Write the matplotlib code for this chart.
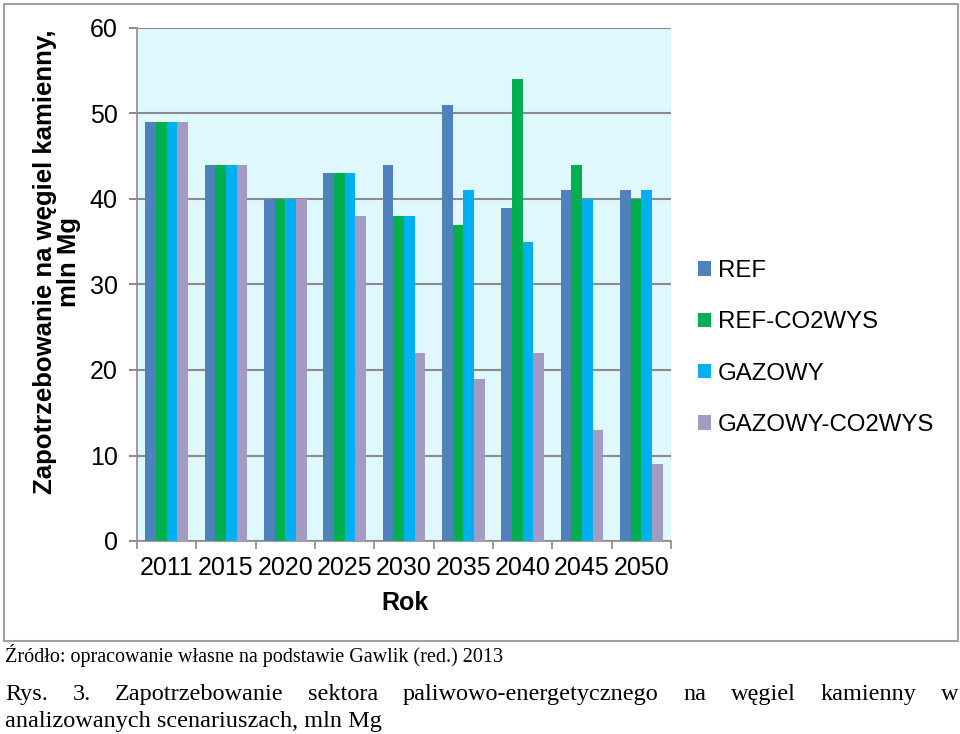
import numpy as np
import matplotlib
matplotlib.use('Agg')
import matplotlib.pyplot as plt
from matplotlib.patches import Rectangle

# data
years = ['2011', '2015', '2020', '2025', '2030', '2035', '2040', '2045', '2050']
ref = [49, 44, 40, 43, 44, 51, 39, 41, 41]
ref_co2 = [49, 44, 40, 43, 38, 37, 54, 44, 40]
gazowy = [49, 44, 40, 43, 38, 41, 35, 40, 41]
gazowy_co2 = [49, 44, 40, 38, 22, 19, 22, 13, 9]
series_names = ['REF', 'REF-CO2WYS', 'GAZOWY', 'GAZOWY-CO2WYS']
colors = ['#4F81BD', '#00B050', '#00B0F0', '#A49BC5']

plt.rcParams['font.family'] = ['Liberation Sans', 'DejaVu Sans']
W, H = 960, 734
fig = plt.figure(figsize=(9.6, 7.34), dpi=100)

# outer chart frame
fig.patches.append(Rectangle((4 / W, 1 - 641 / H), 954 / W, 637 / H, transform=fig.transFigure,
                             fill=False, edgecolor='#A0A0A0', linewidth=1.5))

ax = fig.add_axes([137 / W, 1 - 541 / H, 534 / W, 513 / H])
ax.set_facecolor('#DFF8FD')

x = np.arange(len(years))
bw = 0.18
all_series = [ref, ref_co2, gazowy, gazowy_co2]
for i, (vals, name, c) in enumerate(zip(all_series, series_names, colors)):
    ax.bar(x + (i - 1.5) * bw, vals, bw, color=c, label=name, zorder=3)

ax.set_xlim(-0.5, len(years) - 0.5)
ax.set_ylim(0, 60)
ax.set_yticks(range(0, 61, 10))
ax.yaxis.grid(True, color='#8C8C8C', linewidth=1.5, zorder=1)
ax.set_axisbelow(True)

ax.set_xticks(np.arange(-0.5, len(years), 1))
ax.set_xticklabels([])
ax.set_xticks(x, minor=True)
ax.set_xticklabels(years, minor=True)
ax.tick_params(axis='x', which='major', length=6, color='#8C8C8C', width=1.2, direction='out')
ax.tick_params(axis='x', which='minor', length=0, pad=11, labelsize=18)
ax.tick_params(axis='y', length=6, color='#8C8C8C', width=1.5, pad=8, labelsize=18)

for s in ['top', 'right']:
    ax.spines[s].set_visible(False)
for s in ['left', 'bottom']:
    ax.spines[s].set_color('#8C8C8C')
    ax.spines[s].set_linewidth(1.2)

fig.text(405 / W, 1 - 603 / H, 'Rok', fontsize=18, fontweight='bold', ha='center', va='center')
fig.text(57 / W, 1 - 262 / H, 'Zapotrzebowanie na węgiel kamienny,\nmln Mg', fontsize=18.5,
         fontweight='bold', rotation=90, ha='center', va='center', multialignment='center',
         linespacing=1.0)

ax.legend(loc='center left', bbox_to_anchor=(676 / W, 1 - 348 / H), bbox_transform=fig.transFigure,
          frameon=False, fontsize=17.3, handlelength=0.55, handleheight=0.55, handletextpad=0.3,
          labelspacing=1.22)

# source and caption below the chart
serif = ['Liberation Serif', 'DejaVu Serif']
fig.text(5 / W, 1 - 662 / H, 'Źródło: opracowanie własne na podstawie Gawlik (red.) 2013',
         fontsize=14.5, family=serif, ha='left', va='baseline')

# justified first caption line
words = 'Rys. 3. Zapotrzebowanie sektora paliwowo-energetycznego na węgiel kamienny w'.split()
fig.canvas.draw()
r = fig.canvas.get_renderer()
txts = [fig.text(0, 1 - 700 / H, w, fontsize=17.5, family=serif, ha='left', va='baseline') for w in words]
widths = [t.get_window_extent(r).width for t in txts]
x0, x1 = 5, 958
gap = (x1 - x0 - sum(widths)) / (len(words) - 1)
pos = x0
for t, wd in zip(txts, widths):
    t.set_x(pos / W)
    pos += wd + gap
fig.text(5 / W, 1 - 727 / H, 'analizowanych scenariuszach, mln Mg', fontsize=17.5, family=serif,
         ha='left', va='baseline')

fig.savefig('out.png', dpi=100)
